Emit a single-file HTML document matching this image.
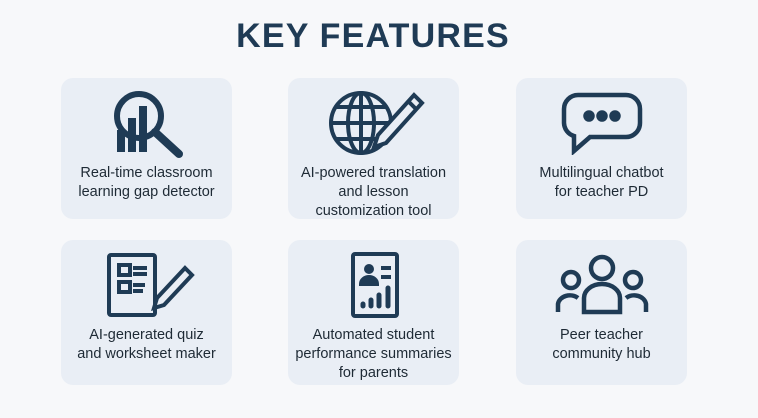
<!DOCTYPE html>
<html><head><meta charset="utf-8"><style>
body{margin:0;width:758px;height:418px;background:#f7f8fa;font-family:"Liberation Sans",sans-serif;position:relative;overflow:hidden}
h1{position:absolute;left:0;width:746px;top:17px;margin:0;text-align:center;font-size:34px;font-weight:bold;color:#1f3b55;letter-spacing:1.2px}
.card{position:absolute;width:171px;background:#e9eef5;border-radius:12px}
.card svg{position:absolute;left:50%;transform:translateX(-50%)}
.lbl{position:absolute;left:0;width:100%;text-align:center;font-size:14.5px;line-height:19px;color:#1e2a35}
</style></head><body>
<h1>KEY FEATURES</h1>

<div class="card" style="left:61px;top:78px;height:141px">
<svg width="80" height="70" viewBox="0 0 80 70" style="top:10px" fill="none" stroke="#1f3b55">
<circle cx="32" cy="28" r="22" stroke-width="6"/><line x1="48" y1="44" x2="72" y2="66" stroke-width="8" stroke-linecap="round"/>
<rect x="10" y="42" width="8" height="22" fill="#1f3b55" stroke="none"/><rect x="21" y="30" width="8" height="34" fill="#1f3b55" stroke="none"/><rect x="32" y="18" width="8" height="46" fill="#1f3b55" stroke="none"/></svg>
<div class="lbl" style="top:86px">Real-time classroom<br>learning gap detector</div></div>

<div class="card" style="left:288px;top:78px;height:141px">
<svg width="110" height="70" viewBox="0 0 110 70" style="top:9px" fill="none" stroke="#1f3b55" stroke-width="4">
<circle cx="42" cy="36" r="30"/><ellipse cx="42" cy="36" rx="13" ry="30"/><line x1="42" y1="6" x2="42" y2="66"/><line x1="12" y1="36" x2="72" y2="36"/><path d="M17 20H67M17 52H67"/>
<path d="M95 8l8 8-36 40-12 4 4-12z" fill="#e9eef5"/><line x1="89" y1="14" x2="97" y2="22"/></svg>
<div class="lbl" style="top:86px">AI-powered translation<br>and lesson<br>customization tool</div></div>

<div class="card" style="left:516px;top:78px;height:141px">
<svg width="84" height="64" viewBox="0 0 84 64" style="top:13px" fill="none" stroke="#1f3b55" stroke-width="4.5">
<path d="M18 4H66A14 14 0 0 1 80 18V32A14 14 0 0 1 66 46H30L14 60V45A14 14 0 0 1 4 32V18A14 14 0 0 1 18 4z"/>
<circle cx="29" cy="25" r="3.5" fill="#1f3b55"/><circle cx="42" cy="25" r="3.5" fill="#1f3b55"/><circle cx="55" cy="25" r="3.5" fill="#1f3b55"/></svg>
<div class="lbl" style="top:86px">Multilingual chatbot<br>for teacher PD</div></div>

<div class="card" style="left:61px;top:240px;height:145px">
<svg width="100" height="66" viewBox="0 0 100 66" style="top:12px" fill="none" stroke="#1f3b55" stroke-width="4">
<rect x="12" y="3" width="46" height="60" rx="2"/><rect x="22" y="13" width="11" height="10"/><rect x="22" y="30" width="11" height="10"/><path d="M36 16H50M36 22H50M36 33H48M36 39H46"/>
<path d="M88 16l7 7-28 30-10 3 3-10z" fill="#e9eef5"/></svg>
<div class="lbl" style="top:86px">AI-generated quiz<br>and worksheet maker</div></div>

<div class="card" style="left:288px;top:240px;height:145px">
<svg width="70" height="70" viewBox="0 0 70 70" style="top:10px" fill="none" stroke="#1f3b55" stroke-width="4">
<rect x="14" y="4" width="44" height="62" rx="2"/><circle cx="30" cy="19" r="5" fill="#1f3b55" stroke="none"/><path d="M22 34a8 7 0 0 1 16 0z" fill="#1f3b55"/>
<path d="M42 18H52M42 27H52"/><g stroke-width="5" stroke-linecap="round"><path d="M24 54V56M32 50V56M40 45V56M49 38V56"/></g></svg>
<div class="lbl" style="top:86px">Automated student<br>performance summaries<br>for parents</div></div>

<div class="card" style="left:516px;top:240px;height:145px">
<svg width="96" height="62" viewBox="0 0 96 62" style="top:14px" fill="none" stroke="#1f3b55" stroke-width="4.5">
<circle cx="48" cy="14" r="11"/><path d="M30 58V44a18 14 0 0 1 36 0V58z"/>
<circle cx="17" cy="26" r="8"/><path d="M4 58V50a12 10 0 0 1 20-6"/><circle cx="79" cy="26" r="8"/><path d="M92 58V50a12 10 0 0 0-20-6"/></svg>
<div class="lbl" style="top:86px">Peer teacher<br>community hub</div></div>
</body></html>
